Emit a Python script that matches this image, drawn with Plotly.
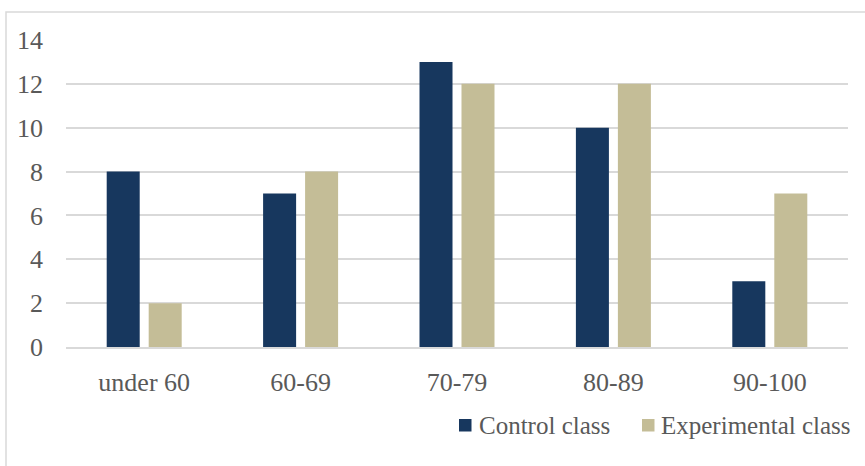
import plotly.graph_objects as go

categories = ["under 60", "60-69", "70-79", "80-89", "90-100"]
control_class = [8, 7, 13, 10, 3]
experimental_class = [2, 8, 12, 12, 7]
y_ticks = [0, 2, 4, 6, 8, 10, 12, 14]
series_names = ["Control class", "Experimental class"]
series_colors = ["#17375E", "#C4BD97"]

FONT = "Liberation Serif"
TEXT = "#595959"
GRID = "#D9D9D9"
FS = 26
LEG_FS = 25

fig = go.Figure()
for name, vals, col in zip(series_names, [control_class, experimental_class], series_colors):
    fig.add_trace(go.Bar(name=name, x=categories, y=vals,
                         marker=dict(color=col, line=dict(width=0))))

W, H = 865, 466
L, R, T, B = 66, 17, 40, 119
pw, ph = W - L - R, H - T - B


def px_x(x):
    return (x - L) / pw


def px_y(y):
    return (T + ph - y) / ph


shapes = [dict(type="rect", xref="paper", yref="paper",
               x0=px_x(6), x1=px_x(872), y0=px_y(472), y1=px_y(12),
               line=dict(color=GRID, width=1.5), layer="below")]
annotations = []

# legend row below the plot: square swatch followed by the series name
legend_items = [(459, 479), (642, 661)]
for (sx, tx), name, col in zip(legend_items, series_names, series_colors):
    shapes.append(dict(type="rect", xref="paper", yref="paper",
                       x0=px_x(sx), x1=px_x(sx + 12.5), y0=px_y(431.5), y1=px_y(419),
                       fillcolor=col, line=dict(width=0)))
    annotations.append(dict(xref="paper", yref="paper", x=px_x(tx - 2), y=px_y(425),
                            xanchor="left", yanchor="middle", showarrow=False,
                            text=name, font=dict(family=FONT, size=LEG_FS, color=TEXT)))

fig.update_layout(
    width=W, height=H,
    margin=dict(l=L, r=R, t=T, b=B),
    paper_bgcolor="white", plot_bgcolor="white",
    barmode="group", bargap=0.463, bargroupgap=0.214,
    font=dict(family=FONT, size=FS, color=TEXT),
    showlegend=False,
    xaxis=dict(showgrid=False, showline=True, linecolor=GRID, linewidth=1.5,
               ticks="", ticklabelstandoff=11, tickfont=dict(size=FS)),
    yaxis=dict(range=[0, 14], tickvals=y_ticks, showgrid=True, gridcolor=GRID,
               gridwidth=1.5, zeroline=False, showline=False, ticks="",
               ticklabelstandoff=22, tickfont=dict(size=FS)),
    shapes=shapes,
    annotations=annotations,
)

fig.write_html("out.html")
